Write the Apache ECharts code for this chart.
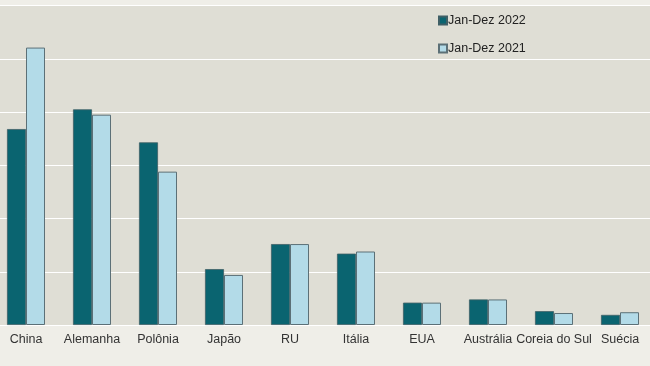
<!DOCTYPE html>
<html>
<head>
<meta charset="utf-8">
<script src="https://cdn.jsdelivr.net/npm/echarts@6/dist/echarts.min.js"></script>
<style>
html,body{margin:0;padding:0;background:#efeee8;overflow:hidden;}
#c{width:660px;height:366px;position:absolute;left:-7px;top:0;}
</style>
</head>
<body>
<div id="c"></div>
<script>
const categories = ['China','Alemanha','Polônia','Japão','RU','Itália','EUA','Austrália','Coreia do Sul','Suécia'];
const values2022 = [3.68, 4.05, 3.43, 1.05, 1.52, 1.34, 0.42, 0.48, 0.26, 0.19];
const values2021 = [5.21, 3.95, 2.88, 0.94, 1.52, 1.38, 0.42, 0.48, 0.225, 0.24];
const seriesNames = ['Jan-Dez 2022', 'Jan-Dez 2021'];

const chart = echarts.init(document.getElementById('c'), null, {renderer:'canvas'});
chart.setOption({
  backgroundColor: '#efeee8',
  animation: false,
  textStyle: {fontFamily: 'Liberation Sans, Arial, sans-serif'},
  grid: {left: 0, right: 0, top: 5.5, bottom: 41, show: true, backgroundColor: '#dfded5', borderWidth: 0, containLabel: false},
  legend: {
    orient: 'vertical', left: 440, top: 9, itemWidth: 8, itemHeight: 8, itemGap: 15,
    icon: 'rect',
    textStyle: {fontSize: 12.5, color: '#222', padding: [0,0,0,-4], fontFamily: 'Liberation Sans, Arial, sans-serif'},
    data: seriesNames
  },
  xAxis: {
    type: 'category', data: categories,
    axisLine: {show: false}, axisTick: {show: false},
    axisLabel: {fontSize: 12.5, color: '#333', margin: 8, interval: 0}
  },
  yAxis: {
    type: 'value', min: 0, max: 6, interval: 1,
    axisLabel: {show: false}, axisLine: {show: false}, axisTick: {show: false},
    splitLine: {lineStyle: {color: '#ffffff', width: 1.2}}
  },
  series: [
    {name: seriesNames[0], type: 'bar', data: values2022, barWidth: 19, barGap: '0%',
     itemStyle: {color: '#0a6470', borderColor: '#3f5f66', borderWidth: 0.8}},
    {name: seriesNames[1], type: 'bar', data: values2021, barWidth: 19, barGap: '0%',
     itemStyle: {color: '#b3dbe8', borderColor: '#5c7077', borderWidth: 1}}
  ]
});
</script>
</body>
</html>
